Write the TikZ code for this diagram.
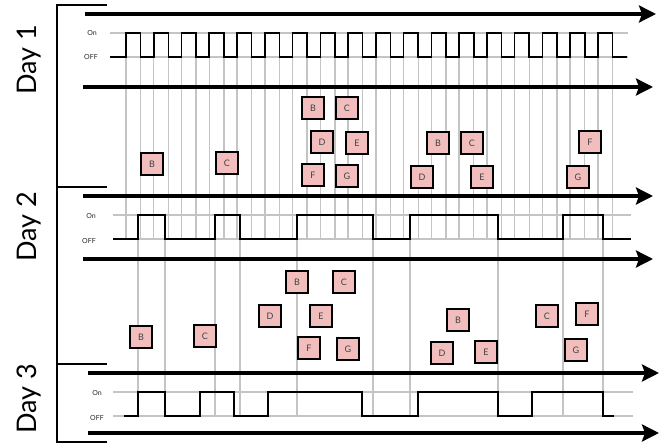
\documentclass[tikz,border=0pt]{standalone}
\usepackage{fontspec}
\setmainfont{Lato}
\usetikzlibrary{arrows.meta}
\definecolor{boxpink}{HTML}{F2BDBD}
\definecolor{gridgray}{HTML}{C4C4C4}
\tikzset{
  timeline/.style={line width=3.2pt,-{Stealth[length=17pt,width=17pt,inset=3pt]}},
  wave/.style={line width=1.6pt,black,line join=miter},
  gridline/.style={line width=1.4pt,gridgray},
  bracket/.style={line width=1.8pt,black},
  evbox/.style={draw=black,line width=2.3pt,fill=boxpink,minimum size=22.5pt,inner sep=0pt,font=\fontsize{9}{10}\selectfont,text=black!75},
  daylbl/.style={rotate=90,font=\fontsize{27}{30}\selectfont},
  lvl/.style={font=\fontsize{7}{8}\selectfont,text=black!85}
}
\begin{document}
\begin{tikzpicture}[x=1pt,y=-1pt]
\useasboundingbox (0,0) rectangle (670,446);
\fill[white] (0,0) rectangle (670,446);

% ---------- grid lines (horizontal levels) ----------
\draw[gridline] (110,33) -- (628,33);
\draw[gridline] (110,57) -- (628,57);
\draw[gridline] (113,215) -- (631,215);
\draw[gridline] (113,239) -- (631,239);
\draw[gridline] (113,392) -- (633,392);
\draw[gridline] (113,416) -- (633,416);

% ---------- vertical grid lines of day 1 edges ----------
\foreach \i in {0,...,17}{
  \draw[gridline] ({126+27.76*\i},33) -- ({126+27.76*\i},240);
  \draw[gridline] ({140.6+27.76*\i},33) -- ({140.6+27.76*\i},240);
}
% ---------- vertical grid lines of day 2 edges ----------
\foreach \x in {138,165,215,240,297,373,410,498,563,603}{
  \draw[gridline] (\x,215) -- (\x,417);
}

% ---------- bracket ----------
\draw[bracket] (107,5) -- (57,5) -- (57,442) -- (107,442);
\draw[bracket] (57,187) -- (107,187);
\draw[bracket] (57,364) -- (107,364);

% ---------- day labels ----------
\node[daylbl] (d1) at (29,60) {Day 1};
\node[daylbl] (d2) at (29,227) {Day 2};
\node[daylbl] (d3) at (29,399) {Day 3};

% ---------- level labels ----------
\node[lvl] (on1) at (92,33) {On};
\node[lvl] (off1) at (91,57) {OFF};
\node[lvl] (on2) at (91,216) {On};
\node[lvl] (off2) at (89,241) {OFF};
\node[lvl] (on3) at (97,393) {On};
\node[lvl] (off3) at (97,418) {OFF};

% ---------- timelines ----------
\coordinate (a1s) at (85,14);  \coordinate (a1e) at (656,14);
\coordinate (a2s) at (83,87);  \coordinate (a2e) at (653,87);
\coordinate (a3s) at (83,196); \coordinate (a3e) at (653,196);
\coordinate (a4s) at (83,259); \coordinate (a4e) at (653,259);
\coordinate (a5s) at (88,373); \coordinate (a5e) at (659,373);
\coordinate (a6s) at (88,433); \coordinate (a6e) at (659,433);
\draw[timeline] (a1s) -- (a1e);
\draw[timeline] (a2s) -- (a2e);
\draw[timeline] (a3s) -- (a3e);
\draw[timeline] (a4s) -- (a4e);
\draw[timeline] (a5s) -- (a5e);
\draw[timeline] (a6s) -- (a6e);

% ---------- waveforms ----------
\draw[wave] (110,57) foreach \i in {0,...,17}{
  -- ({126+27.76*\i},57) -- ({126+27.76*\i},33)
  -- ({140.6+27.76*\i},33) -- ({140.6+27.76*\i},57)} -- (627,57);

\draw[wave] (113,239) -- (138,239) -- (138,215) -- (165,215) -- (165,239)
  -- (215,239) -- (215,215) -- (240,215) -- (240,239) -- (297,239) -- (297,215)
  -- (373,215) -- (373,239) -- (410,239) -- (410,215) -- (498,215) -- (498,239)
  -- (563,239) -- (563,215) -- (603,215) -- (603,239) -- (631,239);

\draw[wave] (124,416) -- (138,416) -- (138,392) -- (165,392) -- (165,416)
  -- (200,416) -- (200,392) -- (234,392) -- (234,416) -- (268,416) -- (268,392)
  -- (362,392) -- (362,416) -- (418,416) -- (418,392) -- (498,392) -- (498,416)
  -- (532,416) -- (532,392) -- (603,392) -- (603,416) -- (614,416);

% ---------- day 1 boxes ----------
\node[evbox] (b1B1) at (152,164) {B};
\node[evbox] (b1C1) at (227,163) {C};
\node[evbox] (b1B2) at (313,108) {B};
\node[evbox] (b1C2) at (347,108) {C};
\node[evbox] (b1D2) at (322,142) {D};
\node[evbox] (b1E2) at (357,143) {E};
\node[evbox] (b1F2) at (313,175) {F};
\node[evbox] (b1G2) at (347,176) {G};
\node[evbox] (b1B3) at (438,143) {B};
\node[evbox] (b1C3) at (472,143) {C};
\node[evbox] (b1D3) at (422,177) {D};
\node[evbox] (b1E3) at (482,177) {E};
\node[evbox] (b1F4) at (590,142) {F};
\node[evbox] (b1G4) at (578,177) {G};

% ---------- day 2 boxes ----------
\node[evbox] (b2B1) at (141,337) {B};
\node[evbox] (b2C1) at (205,336) {C};
\node[evbox] (b2B2) at (297,282) {B};
\node[evbox] (b2C2) at (344,282) {C};
\node[evbox] (b2D2) at (270,316) {D};
\node[evbox] (b2E2) at (321,316) {E};
\node[evbox] (b2F2) at (309,348) {F};
\node[evbox] (b2G2) at (348,349) {G};
\node[evbox] (b2B3) at (458,320) {B};
\node[evbox] (b2D3) at (442,353) {D};
\node[evbox] (b2E3) at (486,352) {E};
\node[evbox] (b2C4) at (547,316) {C};
\node[evbox] (b2F4) at (587,314) {F};
\node[evbox] (b2G4) at (576,350) {G};
\end{tikzpicture}
\end{document}
